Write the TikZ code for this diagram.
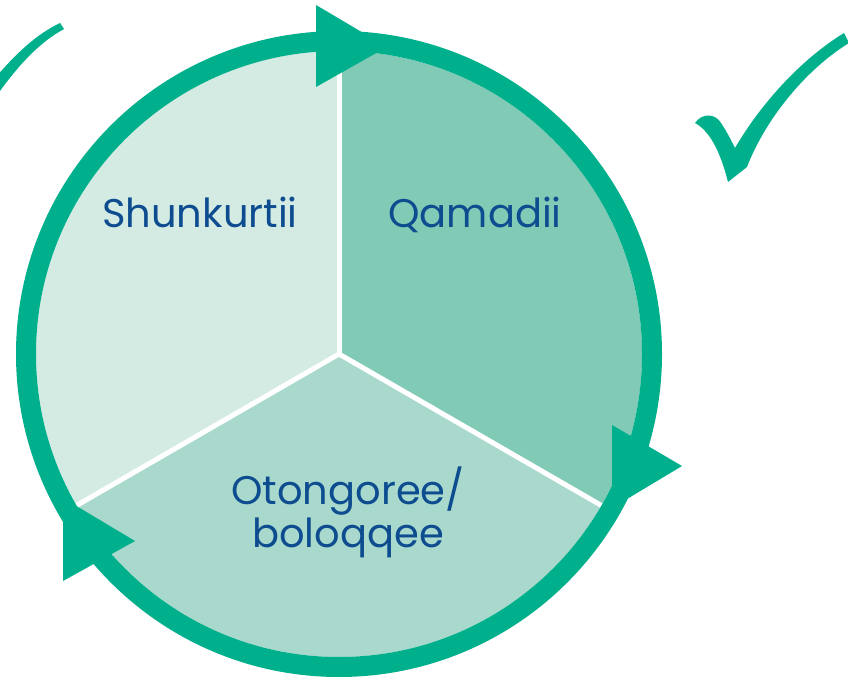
\documentclass[tikz,border=0pt]{standalone}
\usepackage{fontspec}
\setmainfont{Poppins}
\definecolor{ringc}{RGB}{0,176,141}
\definecolor{secA}{RGB}{211,235,227}
\definecolor{secB}{RGB}{128,202,182}
\definecolor{secC}{RGB}{168,217,204}
\definecolor{txtc}{RGB}{13,76,143}
\tikzset{
  lbl/.style={text=txtc, font=\fontsize{40}{46}\selectfont, anchor=base, inner sep=0pt},
  divider/.style={draw=white, line width=5pt},
  ringline/.style={draw=ringc, line width=20pt},
  arrowhd/.style={fill=ringc},
  checkmk/.style={fill=ringc}
}
\begin{document}
\begin{tikzpicture}[x=1pt,y=1pt]
\clip (0,0) rectangle (848,680);
\fill[white] (0,0) rectangle (848,680);
\coordinate (C) at (339,326);
% sectors
\fill[secA] (C) -- ++(90:303) arc[start angle=90,end angle=210,radius=303] -- cycle;
\fill[secB] (C) -- ++(-30:303) arc[start angle=-30,end angle=90,radius=303] -- cycle;
\fill[secC] (C) -- ++(210:303) arc[start angle=210,end angle=330,radius=303] -- cycle;
% dividers
\draw[divider] (C) -- ++(90:305);
\draw[divider] (C) -- ++(-30:305);
\draw[divider] (C) -- ++(210:305);
% ring
\draw[ringline] (C) circle[radius=313];
% arrowheads
\fill[arrowhd] (316,675) -- (316,593) -- (387,633) -- cycle;
\fill[arrowhd] (612,255) -- (612,172) -- (682,214) -- cycle;
\fill[arrowhd] (63,182) -- (63,99) -- (135,139) -- cycle;
% check marks
\fill[checkmk] (695,557) .. controls (702,567) and (715,567) .. (721,557)
  .. controls (727,548) and (731,540) .. (735,532)
  .. controls (760,575) and (800,620) .. (844,647)
  -- (849,637)
  .. controls (805,610) and (765,560) .. (747,513)
  -- (728,498)
  .. controls (722,522) and (712,548) .. (695,557) -- cycle;
\fill[checkmk] (-5,602) .. controls (15,625) and (35,645) .. (60,657)
  -- (64,651) .. controls (40,638) and (18,615) .. (-5,582) -- cycle;
% labels
\node[lbl] (shun) at (200,452) {Shunkurtii};
\node[lbl] (qama) at (475,452) {Qamadii};
\node[lbl] (oton) at (348,175) {Otongoree/};
\node[lbl] (bolo) at (348,132) {boloqqee};
\end{tikzpicture}
\end{document}
